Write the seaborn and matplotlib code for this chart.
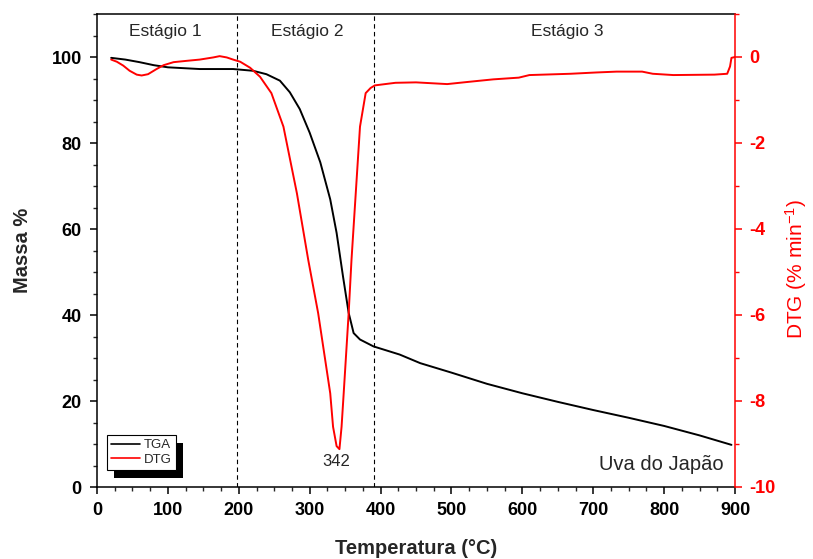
import numpy as np
import pandas as pd
import matplotlib
matplotlib.use("Agg")
import matplotlib.pyplot as plt
import seaborn as sns
from matplotlib.patches import Rectangle
from matplotlib.lines import Line2D
from matplotlib.ticker import MultipleLocator

# ---- data ----
tga_temp = [20, 40, 60, 80, 100, 145, 192, 220, 239, 258, 272, 286, 300, 315, 329,
            338, 347, 355, 362, 371, 390, 427, 456, 500, 550, 600, 650, 700, 750,
            800, 850, 895]
tga_mass = [99.8, 99.4, 98.8, 98.1, 97.6, 97.2, 97.2, 96.8, 96.0, 94.5, 91.8, 87.9,
            82.4, 75.5, 66.9, 59.1, 49.0, 40.5, 35.8, 34.3, 32.7, 30.8, 28.8, 26.6,
            24.0, 21.8, 19.8, 17.9, 16.1, 14.2, 12.0, 9.8]

dtg_temp = [20, 28, 37, 46, 56, 63, 72, 84, 94, 108, 126, 145, 164, 173, 183, 192,
            202, 216, 230, 246, 263, 282, 298, 312, 329, 333, 338, 342, 345, 348,
            355, 359, 365, 371, 379, 386, 392, 421, 450, 494, 523, 559, 595, 610,
            668, 704, 733, 769, 784, 813, 871, 889, 893, 895, 900]
dtg_vals = [-0.06, -0.11, -0.20, -0.32, -0.41, -0.43, -0.40, -0.28, -0.19, -0.12,
            -0.09, -0.06, -0.01, 0.02, -0.01, -0.06, -0.11, -0.25, -0.46, -0.84,
            -1.62, -3.17, -4.72, -5.96, -7.82, -8.60, -9.05, -9.12, -8.60, -7.82,
            -5.96, -4.72, -3.17, -1.62, -0.84, -0.72, -0.66, -0.60, -0.59, -0.63,
            -0.58, -0.52, -0.48, -0.42, -0.39, -0.36, -0.34, -0.34, -0.39, -0.42,
            -0.41, -0.39, -0.22, -0.02, 0.0]

stage_labels = ["Estágio 1", "Estágio 2", "Estágio 3"]
stage_x = [96, 296, 663]
stage_bounds = [197, 391]
peak_label = "342"
sample_label = "Uva do Japão"

x_ticks = [0, 100, 200, 300, 400, 500, 600, 700, 800, 900]
left_ticks = [0, 20, 40, 60, 80, 100]
right_ticks = [-10, -8, -6, -4, -2, 0]

tga_df = pd.DataFrame({"T": tga_temp, "M": tga_mass})
dtg_df = pd.DataFrame({"T": dtg_temp, "D": dtg_vals})

# ---- style ----
sns.set_theme(style="ticks")
plt.rcParams["font.family"] = ["Liberation Sans", "DejaVu Sans"]
plt.rcParams["axes.linewidth"] = 1.1
plt.rcParams["axes.unicode_minus"] = False
plt.rcParams["mathtext.default"] = "regular"

fig = plt.figure(figsize=(8.13, 5.59), dpi=100)
fig.patch.set_facecolor("white")
ax = fig.add_axes([97 / 813, 72 / 559, 638 / 813, 473 / 559])
ax2 = ax.twinx()

sns.lineplot(data=tga_df, x="T", y="M", ax=ax, color="black", lw=1.4,
             sort=False, estimator=None)
sns.lineplot(data=dtg_df, x="T", y="D", ax=ax2, color="red", lw=1.4,
             sort=False, estimator=None)

ax.set_xlim(0, 900)
ax.set_ylim(0, 110)
ax2.set_ylim(-10, 1)

# stage boundaries
for b in stage_bounds:
    ax.axvline(b, color="black", lw=0.8, ls=(0, (4, 3)), zorder=1)

# text
for lab, xs in zip(stage_labels, stage_x):
    ax.text(xs, 106, lab, ha="center", va="center", fontsize=12.5)
ax.text(337, 6, peak_label, ha="center", va="center", fontsize=12)
ax.text(884, 5.3, sample_label, ha="right", va="center", fontsize=14.5)

# axes labels
ax.set_xlabel("Temperatura (°C)", fontsize=14.5, fontweight="bold", labelpad=14)
ax.set_ylabel("Massa %", fontsize=14.5, fontweight="bold", labelpad=14)
ax2.set_ylabel("DTG (% min$^{-1}$)", fontsize=15, color="red")
ax2.yaxis.set_label_coords(1.076, 0.46)

# ticks
ax.set_xticks(x_ticks)
ax.set_yticks(left_ticks)
ax.xaxis.set_minor_locator(MultipleLocator(25))
ax.yaxis.set_minor_locator(MultipleLocator(5))
ax2.set_yticks(right_ticks)
ax2.yaxis.set_minor_locator(MultipleLocator(1))

ax.tick_params(axis="both", which="major", direction="out", length=5, width=1.1,
               labelsize=13, colors="black", pad=6)
ax.tick_params(axis="both", which="minor", direction="out", length=3, width=1.0)
ax2.tick_params(axis="y", which="major", direction="out", length=5, width=1.1,
                labelsize=13, colors="red", pad=5)
ax2.tick_params(axis="y", which="minor", direction="out", length=3, width=1.0,
                colors="red")
for lab in ax.get_xticklabels() + ax.get_yticklabels() + ax2.get_yticklabels():
    lab.set_fontweight("bold")

for s in ["left", "bottom", "top"]:
    ax.spines[s].set_color("black")
ax.spines["right"].set_visible(False)
ax2.spines["right"].set_color("red")
ax2.spines["right"].set_linewidth(1.1)
ax2.spines["left"].set_visible(False)
ax2.spines["top"].set_visible(False)
ax2.spines["bottom"].set_visible(False)

# legend
handles = [Line2D([], [], color="black", lw=1.2), Line2D([], [], color="red", lw=1.2)]
leg = ax2.legend(handles, ["TGA", "DTG"], loc="lower left",
                 bbox_to_anchor=(0.016, 0.036), borderaxespad=0, frameon=True,
                 fancybox=False, fontsize=9.5, handlelength=2.2, handletextpad=0.3,
                 borderpad=0.3, labelspacing=0.2, edgecolor="black")
leg.get_frame().set_linewidth(0.8)
leg.get_frame().set_alpha(1)
leg.set_zorder(10)

fig.canvas.draw()
bb = leg.get_window_extent()
inv = ax2.transAxes.inverted()
(x0, y0) = inv.transform((bb.x0 + 7, bb.y0 - 8))
(x1, y1) = inv.transform((bb.x1 + 7, bb.y1 - 8))
shadow = Rectangle((x0, y0), x1 - x0, y1 - y0, transform=ax2.transAxes,
                   facecolor="black", edgecolor="none", zorder=9)
ax2.add_artist(shadow)

fig.savefig("out.png", dpi=100)
